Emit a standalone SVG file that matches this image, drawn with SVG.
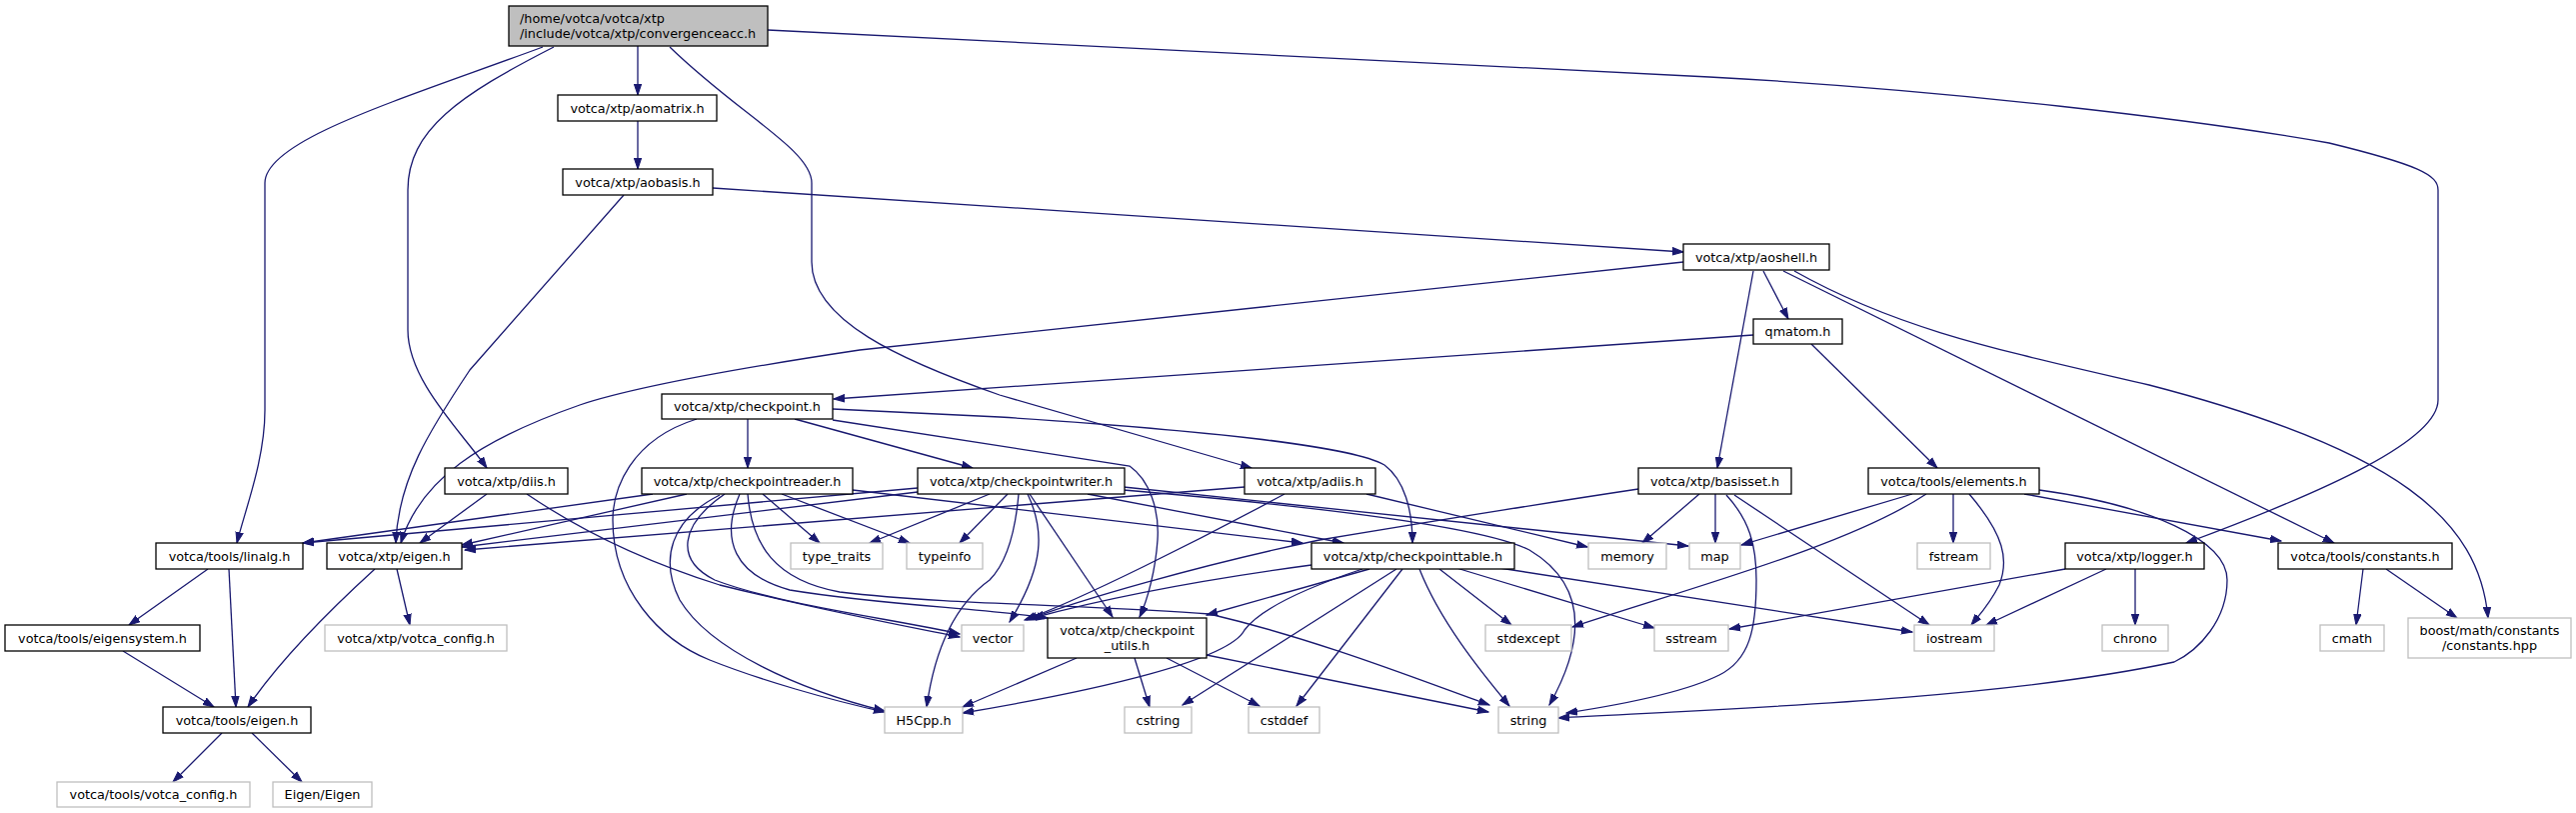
<svg xmlns="http://www.w3.org/2000/svg" width="2577" height="813" viewBox="0 0 2577 813">
<style>
.bg{fill:#fff}
rect{fill:#fff;stroke:#000;stroke-width:1.3}
.g rect{stroke:#bfbfbf}
.r rect{fill:#bfbfbf}
text{font-family:"DejaVu Sans","Liberation Sans",sans-serif;font-size:12.8px;fill:#000;text-anchor:middle}
.l{text-anchor:start}
#edges path{fill:none;stroke:#191970;stroke-width:1.3;marker-end:url(#a)}
</style>
<defs>
<marker id="a" markerWidth="12" markerHeight="9" refX="11" refY="4.5" orient="auto" markerUnits="userSpaceOnUse">
<path d="M0,0.8 L11,4.5 L0,8.2 z" fill="#191970" stroke="#191970" stroke-width="1"/>
</marker>
</defs>
<rect class="bg" x="0" y="0" width="2577" height="813" style="stroke:none"/>
<g id="edges">
<path d="M638,46 L638,95"/>
<path d="M543,47 C400,100 265,140 265,183 L265,410 C265,460 245,510 237,543"/>
<path d="M554,47 C460,95 408,130 408,190 L408,330 C408,380 460,430 487,468"/>
<path d="M670,47 C740,115 812,150 812,183 L812,262 C812,320 900,360 1000,395 L1252,468"/>
<path d="M768,30 L1710,77 C1950,90 2200,120 2330,143 C2420,165 2439,175 2439,190 L2439,400 C2439,440 2330,490 2187,543"/>
<path d="M638,121 L638,169"/>
<path d="M624,195 L470,370 C430,430 398,480 396,543"/>
<path d="M713,188 L1684,252"/>
<path d="M1684,262 L860,350 C760,365 640,385 580,405 C480,440 420,480 401,543"/>
<path d="M1754,271 L1718,468"/>
<path d="M1764,271 L1789,319"/>
<path d="M1784,271 L2335,543"/>
<path d="M1795,271 C1900,330 2000,350 2150,385 C2400,450 2480,520 2489,618"/>
<path d="M1754,335 L834,399"/>
<path d="M1812,344 L1938,468"/>
<path d="M748,419 L748,468"/>
<path d="M697,419 C630,440 613,490 613,520 C613,590 660,640 710,660 C760,680 830,700 885,712"/>
<path d="M795,419 L973,468"/>
<path d="M833,420 L1130,466 C1150,480 1160,510 1158,540 C1156,570 1148,600 1140,617"/>
<path d="M833,409 L1000,417 C1200,430 1350,445 1385,465 C1405,480 1413,510 1413,543"/>
<path d="M653,494 L303,543"/>
<path d="M687,494 L462,545"/>
<path d="M763,494 L820,543"/>
<path d="M782,494 L910,543"/>
<path d="M720,495 C670,520 660,560 680,600 C710,650 800,690 885,711"/>
<path d="M725,494 C680,525 675,560 715,580 C780,605 900,620 960,634"/>
<path d="M740,494 C720,540 735,575 790,590 C880,605 980,608 1048,618"/>
<path d="M748,494 C752,545 775,580 840,592 C950,605 1100,605 1210,614 C1320,640 1420,680 1490,705"/>
<path d="M853,490 L1303,543"/>
<path d="M918,488 L303,543"/>
<path d="M918,492 L462,547"/>
<path d="M990,494 L870,543"/>
<path d="M1008,494 L960,543"/>
<path d="M1019,494 C1015,540 1005,565 990,580 C955,605 935,650 927,707"/>
<path d="M1028,494 C1045,530 1045,565 1010,622"/>
<path d="M1030,494 L1113,617"/>
<path d="M1088,494 L1344,543"/>
<path d="M1124,487 L1689,546"/>
<path d="M1124,490 C1300,505 1480,525 1530,550 C1580,580 1592,630 1550,705"/>
<path d="M1245,487 L465,550"/>
<path d="M1285,494 C1200,540 1080,600 1025,620"/>
<path d="M1367,494 L1588,547"/>
<path d="M487,494 L420,543"/>
<path d="M527,494 C580,530 640,560 720,585 C820,610 900,625 960,637"/>
<path d="M1639,489 C1500,510 1380,530 1320,540 C1200,565 1080,600 1027,620"/>
<path d="M1700,494 L1643,543"/>
<path d="M1716,494 L1716,543"/>
<path d="M1727,495 C1750,520 1757,545 1757,580 C1757,630 1750,660 1720,675 C1680,695 1600,708 1567,713"/>
<path d="M1735,495 L1930,625"/>
<path d="M1913,494 L1742,545"/>
<path d="M1927,494 C1850,545 1700,585 1573,627"/>
<path d="M1954,494 L1954,543"/>
<path d="M1970,494 C2005,535 2010,560 2000,585 C1990,605 1980,615 1972,625"/>
<path d="M2025,494 L2282,541"/>
<path d="M2040,490 C2150,505 2228,540 2228,580 C2228,620 2200,650 2175,662 C2000,700 1700,710 1559,718"/>
<path d="M1312,565 C1200,580 1100,600 1033,618"/>
<path d="M1370,569 L1207,615"/>
<path d="M1363,569 C1300,590 1260,610 1245,630 C1230,660 1100,690 963,713"/>
<path d="M1397,569 L1183,705"/>
<path d="M1403,569 L1297,706"/>
<path d="M1420,569 C1440,620 1480,670 1510,706"/>
<path d="M1440,569 L1512,625"/>
<path d="M1457,568 L1655,628"/>
<path d="M1500,568 L1913,632"/>
<path d="M1077,658 L963,707"/>
<path d="M1135,658 L1150,707"/>
<path d="M1167,658 L1260,706"/>
<path d="M1207,655 L1489,712"/>
<path d="M2066,569 L1730,629"/>
<path d="M2107,569 L1987,625"/>
<path d="M2136,569 L2136,625"/>
<path d="M2364,569 L2357,625"/>
<path d="M2387,569 L2458,618"/>
<path d="M208,569 L129,625"/>
<path d="M229,569 L236,707"/>
<path d="M375,569 C330,610 280,660 248,707"/>
<path d="M397,569 L410,625"/>
<path d="M123,651 L214,707"/>
<path d="M222,733 L173,782"/>
<path d="M252,733 L302,782"/>
</g>
<g id="n_root" class="r"><rect x="509" y="6" width="259" height="40"/><text class="l" x="520" y="22.5">/home/votca/votca/xtp</text><text class="l" x="520" y="37.5">/include/votca/xtp/convergenceacc.h</text></g>
<g id="n_aomatrix"><rect x="558" y="95" width="159" height="26"/><text x="637.5" y="112.5">votca/xtp/aomatrix.h</text></g>
<g id="n_aobasis"><rect x="563" y="169" width="150" height="26"/><text x="638" y="186.5">votca/xtp/aobasis.h</text></g>
<g id="n_aoshell"><rect x="1684" y="244" width="146" height="26"/><text x="1757" y="261.5">votca/xtp/aoshell.h</text></g>
<g id="n_qmatom"><rect x="1754" y="319" width="89" height="25"/><text x="1798.5" y="336">qmatom.h</text></g>
<g id="n_checkpoint"><rect x="662" y="394" width="171" height="25"/><text x="747.5" y="411">votca/xtp/checkpoint.h</text></g>
<g id="n_diis"><rect x="445" y="468" width="123" height="26"/><text x="506.5" y="485.5">votca/xtp/diis.h</text></g>
<g id="n_checkpointreader"><rect x="642" y="468" width="211" height="26"/><text x="747.5" y="485.5">votca/xtp/checkpointreader.h</text></g>
<g id="n_checkpointwriter"><rect x="918" y="468" width="207" height="26"/><text x="1021.5" y="485.5">votca/xtp/checkpointwriter.h</text></g>
<g id="n_adiis"><rect x="1245" y="468" width="131" height="26"/><text x="1310.5" y="485.5">votca/xtp/adiis.h</text></g>
<g id="n_basisset"><rect x="1639" y="468" width="153" height="26"/><text x="1715.5" y="485.5">votca/xtp/basisset.h</text></g>
<g id="n_elements"><rect x="1869" y="468" width="171" height="26"/><text x="1954.5" y="485.5">votca/tools/elements.h</text></g>
<g id="n_linalg"><rect x="156" y="543" width="147" height="26"/><text x="229.5" y="560.5">votca/tools/linalg.h</text></g>
<g id="n_xtp_eigen"><rect x="327" y="543" width="135" height="26"/><text x="394.5" y="560.5">votca/xtp/eigen.h</text></g>
<g id="n_type_traits" class="g"><rect x="791" y="543" width="92" height="26"/><text x="837" y="560.5">type_traits</text></g>
<g id="n_typeinfo" class="g"><rect x="907" y="543" width="76" height="26"/><text x="945" y="560.5">typeinfo</text></g>
<g id="n_checkpointtable"><rect x="1312" y="543" width="203" height="26"/><text x="1413.5" y="560.5">votca/xtp/checkpointtable.h</text></g>
<g id="n_memory" class="g"><rect x="1589" y="543" width="78" height="26"/><text x="1628" y="560.5">memory</text></g>
<g id="n_map" class="g"><rect x="1690" y="543" width="51" height="26"/><text x="1715.5" y="560.5">map</text></g>
<g id="n_fstream" class="g"><rect x="1918" y="543" width="73" height="26"/><text x="1954.5" y="560.5">fstream</text></g>
<g id="n_logger"><rect x="2066" y="543" width="139" height="26"/><text x="2135.5" y="560.5">votca/xtp/logger.h</text></g>
<g id="n_constants"><rect x="2279" y="543" width="174" height="26"/><text x="2366" y="560.5">votca/tools/constants.h</text></g>
<g id="n_eigensystem"><rect x="5" y="625" width="195" height="26"/><text x="102.5" y="642.5">votca/tools/eigensystem.h</text></g>
<g id="n_xtp_votca_config" class="g"><rect x="325" y="625" width="182" height="26"/><text x="416" y="642.5">votca/xtp/votca_config.h</text></g>
<g id="n_vector" class="g"><rect x="962" y="625" width="62" height="26"/><text x="993" y="642.5">vector</text></g>
<g id="n_checkpoint_utils"><rect x="1048" y="618" width="159" height="40"/><text x="1127.5" y="635">votca/xtp/checkpoint</text><text x="1127.5" y="650">_utils.h</text></g>
<g id="n_stdexcept" class="g"><rect x="1486" y="625" width="86" height="26"/><text x="1529" y="642.5">stdexcept</text></g>
<g id="n_sstream" class="g"><rect x="1655" y="625" width="74" height="26"/><text x="1692" y="642.5">sstream</text></g>
<g id="n_iostream" class="g"><rect x="1915" y="625" width="80" height="26"/><text x="1955" y="642.5">iostream</text></g>
<g id="n_chrono" class="g"><rect x="2103" y="625" width="66" height="26"/><text x="2136" y="642.5">chrono</text></g>
<g id="n_cmath" class="g"><rect x="2321" y="625" width="64" height="26"/><text x="2353" y="642.5">cmath</text></g>
<g id="n_boost" class="g"><rect x="2409" y="618" width="163" height="40"/><text x="2490.5" y="635">boost/math/constants</text><text x="2490.5" y="650">/constants.hpp</text></g>
<g id="n_tools_eigen"><rect x="163" y="707" width="148" height="26"/><text x="237" y="724.5">votca/tools/eigen.h</text></g>
<g id="n_h5cpp" class="g"><rect x="885" y="707" width="78" height="26"/><text x="924" y="724.5">H5Cpp.h</text></g>
<g id="n_cstring" class="g"><rect x="1125" y="707" width="67" height="26"/><text x="1158.5" y="724.5">cstring</text></g>
<g id="n_cstddef" class="g"><rect x="1249" y="707" width="71" height="26"/><text x="1284.5" y="724.5">cstddef</text></g>
<g id="n_string" class="g"><rect x="1499" y="707" width="60" height="26"/><text x="1529" y="724.5">string</text></g>
<g id="n_tools_votca_config" class="g"><rect x="57" y="782" width="193" height="25"/><text x="153.5" y="799">votca/tools/votca_config.h</text></g>
<g id="n_eigen_eigen" class="g"><rect x="273" y="782" width="99" height="25"/><text x="322.5" y="799">Eigen/Eigen</text></g>
</svg>
